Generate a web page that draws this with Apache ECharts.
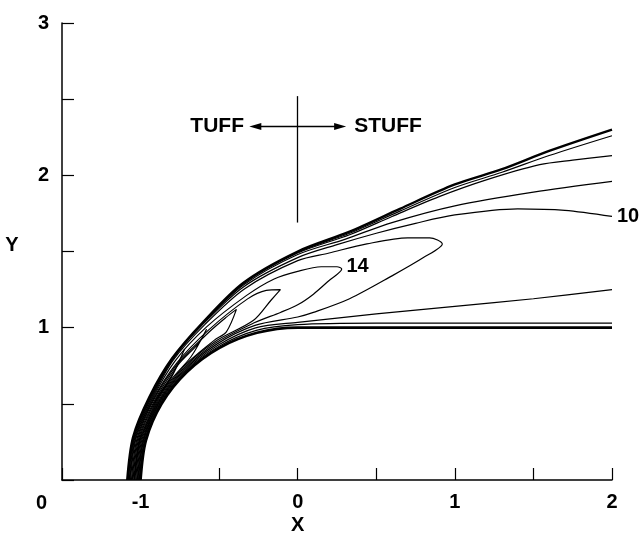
<!DOCTYPE html>
<html><head><meta charset="utf-8">
<script src="https://cdn.jsdelivr.net/npm/echarts@6/dist/echarts.min.js"></script>
<style>html,body{margin:0;padding:0;background:#fff}#c{width:641px;height:540px}</style>
</head><body><div id="c"></div>
<script>
// axis ticks / labels
const xTickLabels = [-1, 0, 1, 2];
const yTickLabels = [0, 1, 2, 3];

// contour lines: [x, y]
const shock = [[-1.085,0],[-1.048,0.281],[-0.944,0.545],[-0.799,0.799],[-0.600,1.039],[-0.347,1.294],[0,1.50],[0.33,1.63],[0.65,1.78],[1.0,1.94],[1.3,2.04],[1.6,2.16],[2.0,2.30]];
const line2 = [[-1.082,0],[-1.045,0.280],[-0.941,0.544],[-0.798,0.798],[-0.599,1.037],[-0.346,1.291],[0,1.495],[0.33,1.62],[0.65,1.765],[1.0,1.92],[1.3,2.02],[1.6,2.13],[2.0,2.26]];
const line3 = [[-1.080,0],[-1.043,0.280],[-0.940,0.543],[-0.797,0.797],[-0.598,1.036],[-0.345,1.288],[0,1.49],[0.33,1.61],[0.6,1.73],[0.9,1.86],[1.2,1.97],[1.54,2.07],[1.75,2.10],[2.0,2.13]];
const line4 = [[-1.077,0],[-1.040,0.279],[-0.936,0.541],[-0.797,0.797],[-0.597,1.035],[-0.343,1.281],[0,1.48],[0.3,1.58],[0.6,1.69],[1.0,1.80],[1.5,1.89],[2.0,1.96]];
const line10 = [[-1.072,0],[-1.036,0.278],[-0.933,0.539],[-0.794,0.794],[-0.595,1.031],[-0.341,1.271],[0,1.46],[0.25,1.545],[0.5,1.62],[0.75,1.685],[1.0,1.74],[1.4,1.78],[1.7,1.77],[2.0,1.73]];
const loop13 = [[-1.068,0],[-1.032,0.277],[-0.928,0.536],[-0.790,0.790],[-0.590,1.022],[-0.337,1.256],[0,1.44],[0.2,1.49],[0.44,1.55],[0.7,1.59],[0.84,1.59],[0.92,1.55],[0.8,1.46],[0.6,1.34],[0.33,1.19],[0.1,1.10],[0,1.07],[-0.272,1.015],[-0.515,0.892],[-0.721,0.721],[-0.878,0.507],[-0.979,0.262],[-1.013,0]];
const loop14 = [[-1.064,0],[-1.028,0.276],[-0.924,0.534],[-0.781,0.781],[-0.580,1.005],[-0.325,1.212],[-0.15,1.32],[0,1.37],[0.15,1.40],[0.25,1.40],[0.28,1.385],[0.2,1.31],[0.1,1.22],[0,1.15],[-0.11,1.10],[-0.277,1.032],[-0.52,0.901],[-0.725,0.725],[-0.882,0.509],[-0.982,0.263],[-1.017,0]];
const loop15 = [[-1.058,0],[-1.022,0.274],[-0.919,0.531],[-0.769,0.769],[-0.568,0.984],[-0.319,1.189],[-0.2,1.245],[-0.11,1.25],[-0.17,1.18],[-0.281,1.048],[-0.525,0.909],[-0.730,0.730],[-0.885,0.511],[-0.986,0.264],[-1.021,0]];
const loop16 = [[-1.053,0],[-1.017,0.273],[-0.915,0.528],[-0.764,0.764],[-0.562,0.973],[-0.454,1.069],[-0.39,1.12],[-0.454,0.973],[-0.53,0.918],[-0.735,0.735],[-0.889,0.514],[-0.991,0.266],[-1.0255,0]];
const loop17 = [[-1.048,0],[-1.012,0.271],[-0.909,0.525],[-0.759,0.759],[-0.630,0.899],[-0.58,0.99],[-0.679,0.809],[-0.797,0.669],[-0.894,0.516],[-0.996,0.267],[-1.031,0]];
const loop18 = [[-1.0425,0],[-1.007,0.270],[-0.905,0.523],[-0.788,0.709],[-0.72,0.86],[-0.803,0.674],[-0.899,0.519],[-1.0,0.268],[-1.036,0]];
const line125 = [[-1.0085,0],[-0.974,0.261],[-0.874,0.505],[-0.716,0.716],[-0.51,0.883],[-0.268,0.999],[0,1.035],[0.5,1.09],[1.0,1.14],[1.5,1.19],[2.0,1.25]];
const line103 = [[-1.004,0],[-0.970,0.260],[-0.870,0.502],[-0.712,0.712],[-0.505,0.875],[-0.263,0.982],[0,1.02],[0.5,1.03],[1.0,1.03],[1.5,1.03],[2.0,1.03]];
const body = [[-1,0],[-0.966,0.259],[-0.866,0.5],[-0.707,0.707],[-0.5,0.866],[-0.259,0.966],[0,1],[0.5,1],[1,1],[1.5,1],[2,1]];

// annotation (data coordinates)
const divideX = 0, divideY = [1.69, 2.52];
const arrowY = 2.32, arrowLeft = -0.27, arrowRight = 0.27;
const tuffPos = [-0.342, 2.32], stuffPos = [0.359, 2.32];
const label14Pos = [0.31, 1.40];
const xNamePos = [0, 0], yNamePos = [-1.5, 1.54];

const FONT = '"Liberation Sans", Arial, sans-serif';
const chart = echarts.init(document.getElementById('c'), null, {renderer: 'canvas'});

function mk(name, data, w) {
  return {
    name, type: 'line', data, showSymbol: false, smooth: 0.3, animation: false, silent: true,
    lineStyle: {color: '#000', width: w || 1.2}, z: 3
  };
}
const series = [
  mk('shock', shock, 2.4), mk('l2', line2), mk('l3', line3), mk('l4', line4),
  Object.assign(mk('l10', line10), {endLabel: {show: true, formatter: '10', distance: 5, color: '#000', fontSize: 20, fontFamily: FONT, fontWeight: 'bold'}}),
  mk('loop13', loop13), mk('loop14', loop14), mk('loop15', loop15), mk('loop16', loop16),
  mk('loop17', loop17), mk('loop18', loop18), mk('l125', line125), mk('l103', line103),
  mk('body', body, 2.6)
];
series.push({
  type: 'line', data: [], silent: true, animation: false,
  markLine: {
    silent: true, animation: false, label: {show: false},
    lineStyle: {color: '#000', width: 1.3, type: 'solid'},
    symbol: ['none', 'triangle'], symbolSize: [7, 12],
    data: [
      [{coord: [divideX, arrowY]}, {coord: [arrowLeft, arrowY]}],
      [{coord: [divideX, arrowY]}, {coord: [arrowRight, arrowY]}],
      [{coord: [divideX, divideY[0]], symbol: 'none'}, {coord: [divideX, divideY[1]], symbol: 'none'}]
    ]
  }
});

chart.setOption({
  backgroundColor: '#fff',
  animation: false,
  grid: {left: 62, right: 29, top: 23, bottom: 60},
  xAxis: {
    type: 'value', min: -1.5, max: 2, interval: 0.5,
    axisLine: {onZero: false, lineStyle: {color: '#000', width: 1.5}},
    axisTick: {inside: true, length: 12, lineStyle: {color: '#000', width: 1.2}},
    axisLabel: {margin: 12, color: '#000', fontSize: 20, fontFamily: FONT, fontWeight: 'bold',
      formatter: v => xTickLabels.indexOf(v) >= 0 ? String(v) : ''},
    splitLine: {show: false}
  },
  yAxis: {
    type: 'value', min: 0, max: 3, interval: 0.5,
    axisLine: {onZero: false, lineStyle: {color: '#000', width: 1.5}},
    axisTick: {inside: true, length: 12, lineStyle: {color: '#000', width: 1.2}},
    axisLabel: {margin: 13, color: '#000', fontSize: 20, fontFamily: FONT, fontWeight: 'bold',
      formatter: v => v === 0 ? '{z|0}' : (yTickLabels.indexOf(v) >= 0 ? String(v) : ''),
      rich: {z: {padding: [46, 2, 0, 0], fontSize: 20, fontFamily: FONT, fontWeight: 'bold', color: '#000'}}},
    splitLine: {show: false}
  },
  series
});

const p14 = chart.convertToPixel({gridIndex: 0}, label14Pos);
const pT = chart.convertToPixel({gridIndex: 0}, tuffPos);
const pS = chart.convertToPixel({gridIndex: 0}, stuffPos);
const pX = chart.convertToPixel({gridIndex: 0}, xNamePos);
const pY = chart.convertToPixel({gridIndex: 0}, yNamePos);
const ts = {fill: '#000', fontSize: 20, fontFamily: FONT, fontWeight: 'bold', verticalAlign: 'middle'};
const ta = {fill: '#000', fontSize: 21, fontFamily: FONT, fontWeight: 'bold', verticalAlign: 'middle'};
chart.setOption({
  graphic: [
    {type: 'text', x: p14[0], y: p14[1], style: Object.assign({text: '14', align: 'left'}, ts)},
    {type: 'text', x: pT[0], y: pT[1], style: Object.assign({text: 'TUFF', align: 'right'}, ta)},
    {type: 'text', x: pS[0], y: pS[1], style: Object.assign({text: 'STUFF', align: 'left'}, ta)},
    {type: 'text', x: pX[0], y: pX[1] + 45, style: Object.assign({text: 'X', align: 'center'}, ts)},
    {type: 'text', x: pY[0] - 50, y: pY[1], style: Object.assign({text: 'Y', align: 'center'}, ts)}
  ]
});
</script>
</body></html>
